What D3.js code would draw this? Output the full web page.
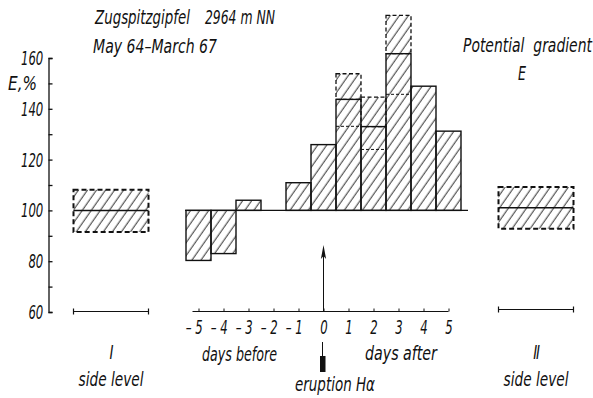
<!DOCTYPE html>
<html>
<head>
<meta charset="utf-8">
<script src="https://cdn.jsdelivr.net/npm/d3@7"></script>
<style>
  body { margin: 0; background: #fff; }
  text { font-family: "Liberation Sans Narrow", "DejaVu Sans Condensed", sans-serif; font-style: italic; fill: #111; }
</style>
</head>
<body>
<div id="chart"></div>
<script>
'use strict';

// data
const days = [-5, -4, -3, -2, -1, 0, 1, 2, 3, 4, 5];
const meanE = [80.3, 83, 104, 100, 110.9, 125.9, 143.7, 133, 161.7, 148.9, 131.2];
const spreadDays = [1, 2, 3];
const spreadHigh = [153.8, 144.6, 176.8];
const spreadLow = [133.1, 124, 145.7];
const sideNames = ['I', 'II'];
const sideMean = [100, 101];
const sideHigh = [108.1, 109.2];
const sideLow = [91.5, 92.8];
const yTicks = [60, 70, 80, 90, 100, 110, 120, 130, 140, 150, 160];
const yLabels = [60, 80, 100, 120, 140, 160];

const width = 593, height = 398;
const digitSqueeze = 0.65; // the numbers are very narrow
const fs = 20;

const svg = d3.select('#chart').append('svg')
  .attr('width', width).attr('height', height);

// scales, the day axis also places the side level boxes
const x = d3.scaleLinear().domain([-5.5, 5.5]).range([186, 461]);
const y = d3.scaleLinear().domain([60, 160]).range([312, 58]);
const sideSpan = [[-10, -7], [7, 10]];

// text helper: squash the fallback font so the text is len pixels wide
function label(px, py, str, len) {
  const t = svg.append('text')
    .attr('font-size', fs)
    .attr('xml:space', 'preserve')
    .text(str);
  const k = len ? len / t.node().getComputedTextLength() : 0.75;
  t.attr('transform', `translate(${px},${py}) scale(${k},1)`);
  return t;
}

// hatch pattern
const defs = svg.append('defs');
defs.append('pattern')
  .attr('id', 'hatch')
  .attr('patternUnits', 'userSpaceOnUse')
  .attr('width', 7.4).attr('height', 10)
  .attr('patternTransform', 'rotate(35)')
  .append('line')
  .attr('x1', 3).attr('y1', 0).attr('x2', 3).attr('y2', 10)
  .attr('stroke', '#111').attr('stroke-width', 0.9);

// y axis, ticks pointing right
const yAxis = d3.axisLeft(y)
  .tickValues(yTicks)
  .tickSizeInner(-4).tickSizeOuter(-4)
  .tickPadding(8)
  .tickFormat(d => yLabels.includes(d) ? d : '');
const gy = svg.append('g')
  .attr('transform', `translate(${x(-11)},0)`)
  .call(yAxis);
gy.selectAll('path,line').attr('stroke', '#111').attr('stroke-width', 1.3);
gy.selectAll('text')
  .attr('font-size', fs).attr('font-family', null)
  .attr('transform', `scale(${digitSqueeze},1)`);

label(8, 90, 'E,%', 29);

// day axis at the bottom, digit sits on the tick and the minus hangs left
const xAxis = d3.axisBottom(x)
  .tickValues(days)
  .tickSizeInner(-3).tickSizeOuter(0)
  .tickPadding(8)
  .tickFormat(d => d < 0 ? '\u2013 ' + Math.abs(d) : d);
const gx = svg.append('g')
  .attr('transform', `translate(0,${y(60) - 0.5})`)
  .call(xAxis);
gx.select('.domain').remove();
gx.selectAll('line').attr('stroke', '#111').attr('stroke-width', 1);
gx.selectAll('text')
  .attr('font-size', fs).attr('font-family', null)
  .attr('transform', `scale(${digitSqueeze},1)`)
  .attr('text-anchor', d => d < 0 ? 'end' : 'middle')
  .attr('x', d => d < 0 ? 5.7 : 0);
svg.append('line')
  .attr('x1', x(-5) - 6).attr('x2', x(5))
  .attr('y1', y(60) - 0.5).attr('y2', y(60) - 0.5)
  .attr('stroke', '#111').attr('stroke-width', 1.2);

// spread boxes above days 1..3 (dashed), drawn under the bars
spreadDays.forEach((d, i) => {
  const m = meanE[days.indexOf(d)];
  svg.append('rect')
    .attr('x', x(d - 0.5)).attr('width', x(d + 0.5) - x(d - 0.5))
    .attr('y', y(spreadHigh[i])).attr('height', y(m) - y(spreadHigh[i]))
    .attr('fill', 'url(#hatch)')
    .attr('stroke', '#111').attr('stroke-width', 1.3)
    .attr('stroke-dasharray', '4,2.5');
});

// the bars, measured from the 100 % line
svg.selectAll('rect.bar')
  .data(days.map((d, i) => ({ d, v: meanE[i] })).filter(o => o.v !== 100))
  .enter().append('rect')
  .attr('class', 'bar')
  .attr('x', o => x(o.d - 0.5))
  .attr('width', o => x(o.d + 0.5) - x(o.d - 0.5))
  .attr('y', o => y(Math.max(o.v, 100)))
  .attr('height', o => Math.abs(y(o.v) - y(100)))
  .attr('fill', 'url(#hatch)')
  .attr('stroke', '#111').attr('stroke-width', 1.4);

// lower spread marks inside the bars
spreadDays.forEach((d, i) => {
  svg.append('line')
    .attr('x1', x(d - 0.5)).attr('x2', x(d + 0.5))
    .attr('y1', y(spreadLow[i])).attr('y2', y(spreadLow[i]))
    .attr('stroke', '#111').attr('stroke-width', 1)
    .attr('stroke-dasharray', '3,2');
});

// 100 % base line
svg.append('line')
  .attr('x1', x(-5.5) - 1).attr('x2', x(5.5) + 7)
  .attr('y1', y(100)).attr('y2', y(100))
  .attr('stroke', '#111').attr('stroke-width', 1.3);

// side level boxes
sideNames.forEach((name, i) => {
  const [a, b] = sideSpan[i];
  svg.append('rect')
    .attr('x', x(a)).attr('width', x(b) - x(a))
    .attr('y', y(sideHigh[i])).attr('height', y(sideLow[i]) - y(sideHigh[i]))
    .attr('fill', 'url(#hatch)')
    .attr('stroke', '#111').attr('stroke-width', 2)
    .attr('stroke-dasharray', '5,3');
  svg.append('line')
    .attr('x1', x(a)).attr('x2', x(b))
    .attr('y1', y(sideMean[i])).attr('y2', y(sideMean[i]))
    .attr('stroke', '#111').attr('stroke-width', 1.5);
  // little base segment
  const by = y(60) - 0.5 - (i === 1 ? 2 : 0);
  svg.append('line')
    .attr('x1', x(a)).attr('x2', x(b))
    .attr('y1', by).attr('y2', by)
    .attr('stroke', '#111').attr('stroke-width', 1.2);
  [a, b].forEach(e => {
    svg.append('line')
      .attr('x1', x(e)).attr('x2', x(e))
      .attr('y1', by - 3).attr('y2', by + 3)
      .attr('stroke', '#111').attr('stroke-width', 1.2);
  });
  const cx = (x(a) + x(b)) / 2;
  svg.append('text')
    .attr('transform', `translate(${cx},359) scale(0.75,1)`)
    .attr('text-anchor', 'middle')
    .attr('font-size', fs)
    .attr('font-family', 'DejaVu Serif')
    .attr('letter-spacing', -1.5)
    .text(name);
  label(cx - 32.5, 386, 'side level', 65);
});

// eruption arrow
svg.append('line')
  .attr('x1', x(0)).attr('x2', x(0))
  .attr('y1', y(60)).attr('y2', 252)
  .attr('stroke', '#111').attr('stroke-width', 1);
svg.append('path')
  .attr('d', `M${x(0)},245 L${x(0) - 2.6},259 L${x(0)},256 L${x(0) + 2.6},259 Z`)
  .attr('fill', '#111');
svg.append('line')
  .attr('x1', x(0) - 1).attr('x2', x(0) - 1)
  .attr('y1', 342).attr('y2', 357)
  .attr('stroke', '#111').attr('stroke-width', 1);
svg.append('rect')
  .attr('x', x(0) - 3.5).attr('y', 356).attr('width', 5.5).attr('height', 16)
  .attr('fill', '#111');

// texts, widths measured on the picture
label(95, 24, 'Zugspitzgipfel', 95);
label(205, 24, '2964 m NN', 70);
label(93, 53, 'May 64\u2013March 67', 124);
label(463, 52, 'Potential  gradient', 129);
label(518, 80, 'E', 8);
label(202, 361, 'days before', 75);
label(365, 360, 'days after', 72);
label(295, 391, 'eruption H\u03b1', 80);
</script>
</body>
</html>
